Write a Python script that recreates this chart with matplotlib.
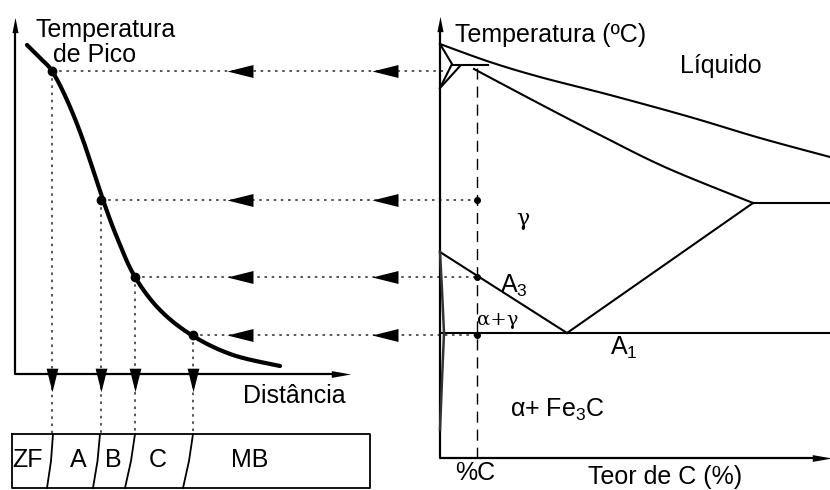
import numpy as np
import matplotlib
matplotlib.use("Agg")
import matplotlib.pyplot as plt

plt.rcParams['font.family'] = ['Liberation Sans', 'DejaVu Sans']
plt.rcParams['mathtext.fontset'] = 'custom'
plt.rcParams['mathtext.rm'] = 'Liberation Sans'
plt.rcParams['mathtext.it'] = 'Liberation Sans:italic'

# ---------------- data (schematic coordinates, pixel-like units) -------------
# peak-temperature curve (left panel)
curve_x = [27, 40, 52, 67, 83, 103, 118, 135, 160, 193, 233, 280]
curve_y = [45, 58, 71, 100, 140, 200, 240, 277, 310, 336, 355, 366]
# points read on the curve and projected
mark_x = [52, 101, 135, 193]
mark_y = [71, 200, 277, 335]
# zones of the weld
zone_labels = ['ZF', 'A', 'B', 'C', 'MB']
zone_label_x = [27, 78, 113, 158, 250]
zone_div_top = [53, 100, 135, 193]
zone_div_bot = [47, 93, 125, 183]

# Fe-C diagram lines (right panel)
liquidus_x = [440, 490, 540, 610, 690, 760, 830]
liquidus_y = [44, 62, 77, 95, 117, 138, 157]
solidus_g_x = [474, 540, 600, 667, 753]
solidus_g_y = [69, 104, 135, 168, 203]
delta_x = [440, 452, 440]
delta_y = [44, 64, 88]
delta2_x = [440, 460]
delta2_y = [88, 66]
peritectic_x = [452, 488]
peritectic_y = [65, 65]
eutectic_x = [753, 830]
eutectic_y = [203, 203]
acm_x = [753, 567]
acm_y = [203, 333]
a3_x = [440, 567]
a3_y = [252, 333]
a1_x = [440, 830]
a1_y = [333, 333]
solvus_x = [440, 442, 444, 442, 440]
solvus_y = [252, 290, 333, 380, 430]
carbon_x = 477   # composition line %C

# ---------------- helpers ----------------------------------------------------
def catmull(xs, ys, n=20):
    p = np.column_stack([xs, ys]).astype(float)
    p = np.vstack([p[0], p, p[-1]])
    out = []
    for i in range(1, len(p) - 2):
        p0, p1, p2, p3 = p[i - 1], p[i], p[i + 1], p[i + 2]
        t = np.linspace(0, 1, n, endpoint=False)[:, None]
        seg = 0.5 * ((2 * p1) + (-p0 + p2) * t + (2 * p0 - 5 * p1 + 4 * p2 - p3) * t ** 2
                     + (-p0 + 3 * p1 - 3 * p2 + p3) * t ** 3)
        out.append(seg)
    out.append(p[-2][None, :])
    out = np.vstack(out)
    return out[:, 0], out[:, 1]

left_tri = [(-1, 0), (1, 0.5), (1, -0.5), (-1, 0)]
down_tri = [(0, -1), (0.5, 1), (-0.5, 1), (0, -1)]
up_tri = [(0, 1), (0.4, -1), (-0.4, -1), (0, 1)]
right_tri = [(1, 0), (-1, 0.35), (-1, -0.35), (1, 0)]

fig = plt.figure(figsize=(8.3, 4.9), dpi=100)
ax = fig.add_axes([0, 0, 1, 1])
ax.set_xlim(0, 830)
ax.set_ylim(490, 0)
ax.axis('off')

K = 'black'
DOT = '#555555'
FS = 18

# ---------------- left panel -------------------------------------------------
ax.plot([15, 15, 340], [30, 374, 374], color=K, lw=1.6, solid_capstyle='butt')
ax.plot([15], [25], marker=up_tri, ms=11, color=K, mew=0)
ax.plot([341], [374], marker=right_tri, ms=14, color=K, mew=0)

for mx, my in zip(mark_x, mark_y):
    ax.plot([mx, carbon_x if my > 100 else 445], [my, my], ls=(0, (1.3, 2.4)),
            color=DOT, lw=1.4)
    ax.plot([mx, mx], [my, 433], ls=(0, (1.3, 2.4)), color=DOT, lw=1.4)
    for tip in (227, 372):
        ax.plot([tip + 13], [my], marker=left_tri, ms=18.7, color=K, mew=0)
    ax.plot([mx], [380], marker=down_tri, ms=17, color=K, mew=0)

cx, cy = catmull(curve_x, curve_y)
ax.plot(cx, cy, color=K, lw=3, solid_capstyle='round')
ax.plot(mark_x, mark_y, 'o', color=K, ms=6)

ax.text(35, 37, 'Temperatura', fontsize=FS, ha='left', va='baseline')
ax.text(53, 62, 'de Pico', fontsize=FS, ha='left', va='baseline')
ax.text(243, 403, 'Distância', fontsize=FS, ha='left', va='baseline')

# zone bar
ax.plot([12, 370, 370, 12, 12], [434, 434, 488, 488, 434], color=K, lw=1.3)
for xt, xb in zip(zone_div_top, zone_div_bot):
    ax.plot([xt, (xt + xb) / 2 + 1, xb], [434, 461, 488], color=K, lw=1.3)
for lab, lx in zip(zone_labels, zone_label_x):
    ax.text(lx, 467, lab, fontsize=FS, ha='center', va='baseline')

# ---------------- right panel (Fe-C diagram) ---------------------------------
ax.plot([440, 440, 815], [25, 458, 458], color=K, lw=1.6, solid_capstyle='butt')
ax.plot([440], [24], marker=up_tri, ms=11, color=K, mew=0)
ax.plot([822], [458], marker=right_tri, ms=14, color=K, mew=0)

LW = 1.5
lx_, ly_ = catmull(liquidus_x, liquidus_y)
ax.plot(lx_, ly_, color=K, lw=LW)
sx_, sy_ = catmull(solidus_g_x, solidus_g_y)
ax.plot(sx_, sy_, color=K, lw=LW)
for xs, ys in [(delta_x, delta_y), (delta2_x, delta2_y), (peritectic_x, peritectic_y),
               (eutectic_x, eutectic_y), (acm_x, acm_y), (a3_x, a3_y), (a1_x, a1_y)]:
    ax.plot(xs, ys, color=K, lw=LW)
ax.plot(solvus_x, solvus_y, color='#333333', lw=1.8)

ax.plot([carbon_x, carbon_x], [68, 458], color=K, lw=1.0, ls=(0, (8, 5)))
ax.plot([carbon_x] * 3, mark_y[1:], 'o', color=K, ms=4)

ax.text(455, 42, 'Temperatura (ºC)', fontsize=FS, ha='left', va='baseline')
ax.text(680, 73, 'Líquido', fontsize=FS, ha='left', va='baseline')
ax.text(523, 225, 'γ', fontsize=FS - 2, ha='center', va='baseline', family='DejaVu Serif')
ax.text(500, 293, r'A$_3$', fontsize=FS, ha='left', va='baseline')
ax.text(477, 325, 'α+γ', fontsize=14, ha='left', va='baseline', family='DejaVu Serif')
ax.text(610, 355, r'A$_1$', fontsize=FS, ha='left', va='baseline')
ax.text(510, 417, r'α+ Fe$_3$C', fontsize=FS, ha='left', va='baseline')
ax.text(455, 480, '%C', fontsize=FS, ha='left', va='baseline')
ax.text(588, 484, 'Teor de C (%)', fontsize=FS, ha='left', va='baseline')

fig.savefig('out.png', dpi=100)
